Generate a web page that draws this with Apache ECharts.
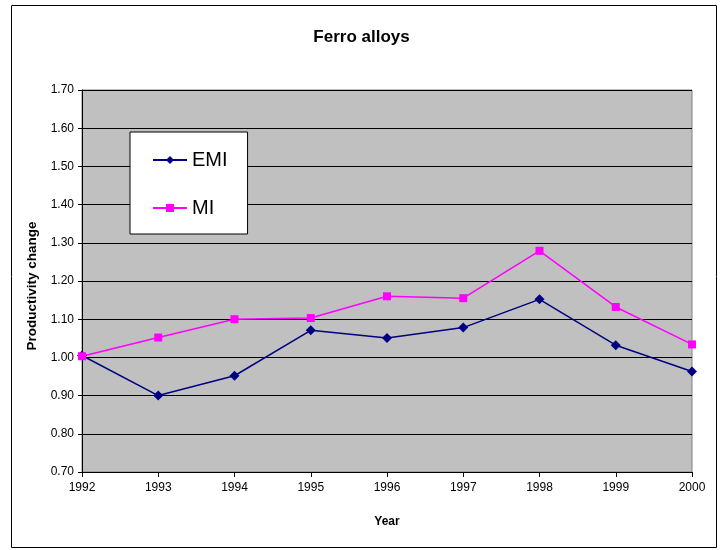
<!DOCTYPE html>
<html>
<head>
<meta charset="utf-8">
<script src="https://cdn.jsdelivr.net/npm/echarts@6/dist/echarts.min.js"></script>
<style>
  html, body { margin: 0; padding: 0; background: #fff; }
  #chart { width: 723px; height: 550px; }
</style>
</head>
<body>
<div id="chart"></div>
<script>
const years = ['1992', '1993', '1994', '1995', '1996', '1997', '1998', '1999', '2000']
const emi = [1.005, 0.900, 0.952, 1.071, 1.051, 1.078, 1.152, 1.032, 0.963]
const mi = [1.003, 1.052, 1.100, 1.103, 1.160, 1.155, 1.279, 1.132, 1.034]

const chart = echarts.init(document.getElementById('chart'))
const font = 'Liberation Sans, Arial, sans-serif'

chart.setOption({
  animation: false,
  textStyle: { fontFamily: font },
  graphic: [{
    type: 'rect',
    shape: { x: 11.5, y: 5.5, width: 705, height: 542 },
    style: { fill: null, stroke: '#000', lineWidth: 1 },
    z: -1
  }],
  title: {
    text: 'Ferro alloys',
    left: 'center',
    top: 24,
    textStyle: { fontSize: 17, fontWeight: 'bold', color: '#000', fontFamily: font }
  },
  legend: {
    orient: 'vertical',
    left: 130,
    top: 132,
    padding: [18, 20, 16, 22],
    itemGap: 28,
    itemWidth: 34,
    itemHeight: 10,
    backgroundColor: '#fff',
    borderColor: '#000',
    borderWidth: 1,
    textStyle: { fontSize: 20, color: '#000', fontFamily: font },
    data: ['EMI', 'MI']
  },
  grid: { left: 82, right: 31, top: 90, bottom: 78, show: true, backgroundColor: '#c0c0c0', borderColor: '#808080', borderWidth: 1 },
  xAxis: {
    type: 'category',
    data: years,
    boundaryGap: false,
    name: 'Year',
    nameLocation: 'middle',
    nameGap: 44,
    nameTextStyle: { fontWeight: 'bold', fontSize: 12, color: '#000' },
    axisLine: { lineStyle: { color: '#000' } },
    axisTick: { show: true, length: 5, lineStyle: { color: '#000' } },
    axisLabel: { color: '#000', fontSize: 12, margin: 10 },
    splitLine: { show: false }
  },
  yAxis: {
    type: 'value',
    min: 0.7,
    max: 1.7,
    interval: 0.1,
    name: 'Productivity change',
    nameLocation: 'middle',
    nameGap: 42,
    nameTextStyle: { fontWeight: 'bold', fontSize: 13.5, color: '#000', padding: [0, 10, 0, 0] },
    axisLine: { show: true, lineStyle: { color: '#000' } },
    axisTick: { show: true, length: 4, lineStyle: { color: '#000' } },
    axisLabel: { color: '#000', fontSize: 12, margin: 8, formatter: v => v.toFixed(2) },
    splitLine: { show: true, lineStyle: { color: '#000', width: 1 } }
  },
  series: [
    {
      name: 'EMI',
      type: 'line',
      data: emi,
      symbol: 'diamond',
      symbolSize: 10,
      color: '#000080',
      lineStyle: { width: 1.5, color: '#000080' },
      itemStyle: { color: '#000080' }
    },
    {
      name: 'MI',
      type: 'line',
      data: mi,
      symbol: 'rect',
      symbolSize: 8,
      color: '#ff00ff',
      lineStyle: { width: 1.5, color: '#ff00ff' },
      itemStyle: { color: '#ff00ff' }
    }
  ]
})
</script>
</body>
</html>
